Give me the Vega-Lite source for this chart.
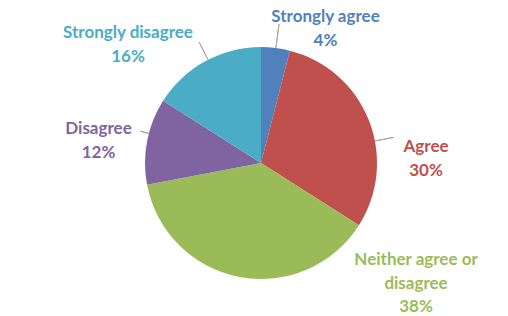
{
  "$schema": "https://vega.github.io/schema/vega-lite/v6.json",
  "width": 494,
  "height": 306,
  "autosize": "none",
  "padding": {"left": 14, "top": 10, "right": 0, "bottom": 0},
  "background": "white",
  "config": {"view": {"stroke": null}},
  "data": {
    "values": [
      {"idx": 1, "category": "Strongly agree", "label": "Strongly agree", "value": 4},
      {"idx": 2, "category": "Agree", "label": "Agree", "value": 30},
      {"idx": 3, "category": "Neither agree or disagree", "label": "Neither agree or\ndisagree", "value": 38},
      {"idx": 4, "category": "Disagree", "label": "Disagree", "value": 12},
      {"idx": 5, "category": "Strongly disagree", "label": "Strongly disagree", "value": 16}
    ]
  },
  "transform": [
    {"calculate": "datum.label + '\\n' + datum.value + '%'", "as": "txt"}
  ],
  "layer": [
    {
      "mark": {"type": "arc", "outerRadius": 116},
      "encoding": {
        "theta": {"field": "value", "type": "quantitative", "stack": true},
        "order": {"field": "idx", "type": "quantitative"},
        "color": {
          "field": "category",
          "type": "nominal",
          "legend": null,
          "scale": {
            "domain": ["Strongly agree", "Agree", "Neither agree or disagree", "Disagree", "Strongly disagree"],
            "range": ["#4F81BD", "#C0504D", "#9BBB59", "#8064A2", "#4BACC6"]
          }
        }
      }
    },
    {
      "data": {"values": [{}]},
      "mark": {"type": "arc", "stroke": "#A6A6A6", "strokeWidth": 1, "fill": null},
      "encoding": {"theta": {"value": 0.129}, "theta2": {"value": 0.129}, "radius": {"value": 116}, "radius2": {"value": 140}}
    },
    {
      "data": {"values": [{}]},
      "mark": {"type": "arc", "stroke": "#A6A6A6", "strokeWidth": 1, "fill": null},
      "encoding": {"theta": {"value": 5.81}, "theta2": {"value": 5.81}, "radius": {"value": 116}, "radius2": {"value": 136}}
    },
    {
      "data": {"values": [{}]},
      "mark": {"type": "arc", "stroke": "#A6A6A6", "strokeWidth": 1, "fill": null},
      "encoding": {"theta": {"value": 1.38}, "theta2": {"value": 1.38}, "radius": {"value": 116}, "radius2": {"value": 135}}
    },
    {
      "data": {"values": [{}]},
      "mark": {"type": "arc", "stroke": "#A6A6A6", "strokeWidth": 1, "fill": null},
      "encoding": {"theta": {"value": 4.97}, "theta2": {"value": 4.97}, "radius": {"value": 116}, "radius2": {"value": 125}}
    },
    {
      "transform": [{"filter": "datum.idx == 1"}],
      "mark": {"type": "text", "font": "Lato", "fontWeight": "bold", "fontSize": 17, "lineBreak": "\n", "lineHeight": 24, "align": "center", "baseline": "middle", "color": "#4F81BD"},
      "encoding": {"text": {"field": "txt"}, "theta": {"value": 0.4159}, "radius": {"value": 159.6}}
    },
    {
      "transform": [{"filter": "datum.idx == 2"}],
      "mark": {"type": "text", "font": "Lato", "fontWeight": "bold", "fontSize": 17, "lineBreak": "\n", "lineHeight": 24, "align": "center", "baseline": "middle", "color": "#C0504D"},
      "encoding": {"text": {"field": "txt"}, "theta": {"value": 1.4741}, "radius": {"value": 165.8}}
    },
    {
      "transform": [{"filter": "datum.idx == 3"}],
      "mark": {"type": "text", "font": "Lato", "fontWeight": "bold", "fontSize": 17, "lineBreak": "\n", "lineHeight": 23.5, "align": "center", "baseline": "middle", "color": "#9BBB59"},
      "encoding": {"text": {"field": "txt"}, "theta": {"value": 2.13}, "radius": {"value": 182.9}}
    },
    {
      "transform": [{"filter": "datum.idx == 4"}],
      "mark": {"type": "text", "font": "Lato", "fontWeight": "bold", "fontSize": 17, "lineBreak": "\n", "lineHeight": 24, "align": "center", "baseline": "middle", "color": "#8064A2"},
      "encoding": {"text": {"field": "txt"}, "theta": {"value": 4.9186}, "radius": {"value": 166}}
    },
    {
      "transform": [{"filter": "datum.idx == 5"}],
      "mark": {"type": "text", "font": "Lato", "fontWeight": "bold", "fontSize": 17, "lineBreak": "\n", "lineHeight": 24, "align": "center", "baseline": "middle", "color": "#4BACC6"},
      "encoding": {"text": {"field": "txt"}, "theta": {"value": 5.4864}, "radius": {"value": 186}}
    }
  ]
}
